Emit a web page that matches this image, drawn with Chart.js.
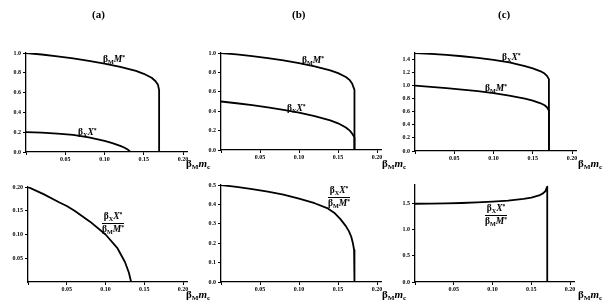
<!DOCTYPE html>
<html><head><meta charset="utf-8">
<script src="https://cdn.jsdelivr.net/npm/chart.js@4.4.1/dist/chart.umd.min.js"></script>
<style>
html,body{margin:0;padding:0;background:#fff;}
#wrap{position:relative;width:607px;height:304px;overflow:hidden;font-family:"Liberation Serif","DejaVu Serif",serif;color:#000;}
canvas{position:absolute;}
.t{position:absolute;white-space:nowrap;line-height:1;filter:grayscale(100%);-webkit-font-smoothing:antialiased;}
.ttl{font-size:11px;font-weight:bold;}
.ax{font-size:11px;font-weight:bold;}
.ax i{font-style:italic;}
.cl{font-size:9.5px;font-weight:bold;}
.cl i{font-style:italic;}
sub{font-size:65%;vertical-align:-0.25em;line-height:0;}
sup{font-size:60%;vertical-align:0.5em;line-height:0;}
.fr{display:inline-block;text-align:center;}
.fr .n{display:block;border-bottom:1px solid #000;padding:0 1px 1px 1px;}
.fr .d{display:block;padding-top:1px;}
</style></head><body>
<div id="wrap">
<div class="t ttl" style="left:92px;top:9px">(a)</div>
<div class="t ttl" style="left:292px;top:9px">(b)</div>
<div class="t ttl" style="left:498px;top:9px">(c)</div>

<div class="t ax" style="left:186px;top:158px">β<sub>M</sub><i>m</i><sub>c</sub></div>
<div class="t ax" style="left:382px;top:158px">β<sub>M</sub><i>m</i><sub>c</sub></div>
<div class="t ax" style="left:578px;top:158px">β<sub>M</sub><i>m</i><sub>c</sub></div>
<div class="t ax" style="left:186px;top:289px">β<sub>M</sub><i>m</i><sub>c</sub></div>
<div class="t ax" style="left:382px;top:289px">β<sub>M</sub><i>m</i><sub>c</sub></div>
<div class="t ax" style="left:578px;top:289px">β<sub>M</sub><i>m</i><sub>c</sub></div>

<div class="t cl" style="left:103px;top:55px">β<sub>M</sub><i>M</i><sup>*</sup></div>
<div class="t cl" style="left:78px;top:128px">β<sub>X</sub><i>X</i><sup>*</sup></div>
<div class="t cl" style="left:302px;top:56px">β<sub>M</sub><i>M</i><sup>*</sup></div>
<div class="t cl" style="left:287px;top:104px">β<sub>X</sub><i>X</i><sup>*</sup></div>
<div class="t cl" style="left:502px;top:53px">β<sub>X</sub><i>X</i><sup>*</sup></div>
<div class="t cl" style="left:485px;top:84px">β<sub>M</sub><i>M</i><sup>*</sup></div>

<div class="t cl" style="left:102px;top:212px"><span class="fr"><span class="n">β<sub>X</sub><i>X</i><sup>*</sup></span><span class="d">β<sub>M</sub><i>M</i><sup>*</sup></span></span></div>
<div class="t cl" style="left:328px;top:186px"><span class="fr"><span class="n">β<sub>X</sub><i>X</i><sup>*</sup></span><span class="d">β<sub>M</sub><i>M</i><sup>*</sup></span></span></div>
<div class="t cl" style="left:485px;top:204px"><span class="fr"><span class="n">β<sub>X</sub><i>X</i><sup>*</sup></span><span class="d">β<sub>M</sub><i>M</i><sup>*</sup></span></span></div>
</div>
<script>
// ---- data (x = beta_M m_c) ----
const xTickVals = [0, 0.05, 0.10, 0.15, 0.20];

// (a) top
const aMx = [0,0.02,0.04,0.06,0.08,0.10,0.12,0.14,0.15,0.16,0.165,0.168,0.1695,0.1695,0.205];
const aMy = [1.0,0.985,0.965,0.945,0.92,0.893,0.86,0.82,0.79,0.75,0.715,0.68,0.625,0,0];
const aXx = [0,0.02,0.04,0.06,0.08,0.10,0.11,0.12,0.125,0.13,0.133,0.205];
const aXy = [0.2,0.195,0.186,0.172,0.148,0.112,0.09,0.062,0.045,0.022,0,0];
const aTopTicks = [0,0.2,0.4,0.6,0.8,1.0];

// (b) top
const bMx = [0,0.02,0.04,0.06,0.08,0.10,0.12,0.14,0.15,0.16,0.165,0.168,0.171,0.171,0.205];
const bMy = [1.0,0.985,0.967,0.947,0.923,0.895,0.862,0.82,0.792,0.752,0.72,0.685,0.62,0,0];
const bXx = [0,0.02,0.04,0.06,0.08,0.10,0.12,0.14,0.15,0.16,0.165,0.168,0.171,0.171,0.205];
const bXy = [0.5,0.482,0.462,0.44,0.413,0.385,0.35,0.305,0.275,0.232,0.2,0.17,0.13,0,0];
const bTopTicks = [0,0.2,0.4,0.6,0.8,1.0];

// (c) top
const cx = [0,0.02,0.04,0.06,0.08,0.10,0.12,0.14,0.15,0.16,0.165,0.168,0.1705,0.1705,0.205];
const cXy = [1.5,1.487,1.47,1.45,1.425,1.395,1.355,1.3,1.265,1.22,1.185,1.15,1.1,0,0];
const cMy = [1.0,0.982,0.962,0.94,0.915,0.885,0.848,0.8,0.77,0.73,0.7,0.67,0.62,0,0];
const cTopTicks = [0,0.2,0.4,0.6,0.8,1.0,1.2,1.4];

// ratios (bottom row)
const rAx = [0,0.02,0.04,0.05,0.06,0.08,0.10,0.115,0.125,0.13,0.133,0.205];
const rAy = [0.2,0.185,0.168,0.16,0.15,0.127,0.1,0.072,0.042,0.02,0,0];
const rATicks = [0.05,0.10,0.15,0.20];
const rBx = [0,0.02,0.04,0.06,0.08,0.10,0.12,0.136,0.145,0.153,0.16,0.164,0.167,0.169,0.1705,0.171,0.171,0.205];
const rBy = [0.5,0.49,0.479,0.466,0.45,0.43,0.406,0.381,0.357,0.324,0.288,0.261,0.232,0.2,0.165,0.12,0,0];
const rBTicks = [0,0.1,0.2,0.3,0.4,0.5];
const rCx = [0,0.02,0.04,0.06,0.08,0.10,0.12,0.14,0.15,0.16,0.165,0.168,0.1705,0.1705,0.205];
const rCy = [1.5,1.503,1.508,1.515,1.525,1.54,1.56,1.595,1.62,1.66,1.7,1.74,1.83,0,0];
const rCTicks = [0,0.5,1.0,1.5];

const FONT = {family:'"Liberation Serif", serif', size:6, weight:'bold'};
const wrap = document.getElementById('wrap');

function panel(area, yMax, yTicks, yDec, series, yHideZero) {
  const [L,T,R,B] = area;
  const PL = 24, PT = 8, PR = 14, PB = 14;
  const W = R - L + PL + PR, H = B - T + PT + PB;
  const cv = document.createElement('canvas');
  cv.width = W; cv.height = H;
  cv.style.left = (L - PL) + 'px'; cv.style.top = (T - PT) + 'px';
  cv.style.width = W + 'px'; cv.style.height = H + 'px';
  wrap.appendChild(cv);
  new Chart(cv, {
    type: 'line',
    data: { datasets: series.map(s => ({
      data: s[0].map((x,i) => ({x:x, y:s[1][i]})),
      borderColor:'#000', borderWidth:1.8, pointRadius:0, tension:0, fill:false,
      borderJoinStyle:'round'
    })) },
    options: {
      responsive:false, animation:false, devicePixelRatio:1,
      layout:{padding:{left:0, top:PT, right:PR, bottom:0}},
      plugins:{legend:{display:false}, tooltip:{enabled:false}},
      scales:{
        x:{type:'linear', min:0, max:0.205,
          afterBuildTicks(s){ s.ticks = xTickVals.map(v=>({value:v})); },
          afterFit(s){ s.height = PB; s.paddingLeft = 0; s.paddingRight = 0; },
          ticks:{autoSkip:false, maxRotation:0, padding:1, color:'#000', font:FONT,
            callback:(v)=> v===0 ? '' : Number(v).toFixed(2)},
          grid:{drawOnChartArea:false, drawTicks:true, tickLength:3, color:'#000', lineWidth:1},
          border:{display:true, color:'#000', width:1.3}
        },
        y:{type:'linear', min:0, max:yMax,
          afterBuildTicks(s){ s.ticks = yTicks.map(v=>({value:v})); },
          afterFit(s){ s.width = PL; s.paddingTop = 0; s.paddingBottom = 0; },
          ticks:{autoSkip:false, padding:2, color:'#000', font:FONT,
            callback:(v)=> (yHideZero && v===0) ? '' : Number(v).toFixed(yDec)},
          grid:{drawOnChartArea:false, drawTicks:true, tickLength:3, color:'#000', lineWidth:1},
          border:{display:true, color:'#000', width:1.3}
        }
      }
    }
  });
}

panel([26,53,187,152], 1.0, aTopTicks, 1, [[aMx,aMy],[aXx,aXy]]);
panel([221,53,381,150], 1.0, bTopTicks, 1, [[bMx,bMy],[bXx,bXy]]);
panel([415,53,576,151], 1.5, cTopTicks, 1, [[cx,cXy],[cx,cMy]]);
panel([28,187,187,282], 0.2, rATicks, 2, [[rAx,rAy]], true);
panel([221,185,381,282], 0.5, rBTicks, 1, [[rBx,rBy]]);
panel([415,185,574,282], 1.86, rCTicks, 1, [[rCx,rCy]]);
</script>
</body></html>
